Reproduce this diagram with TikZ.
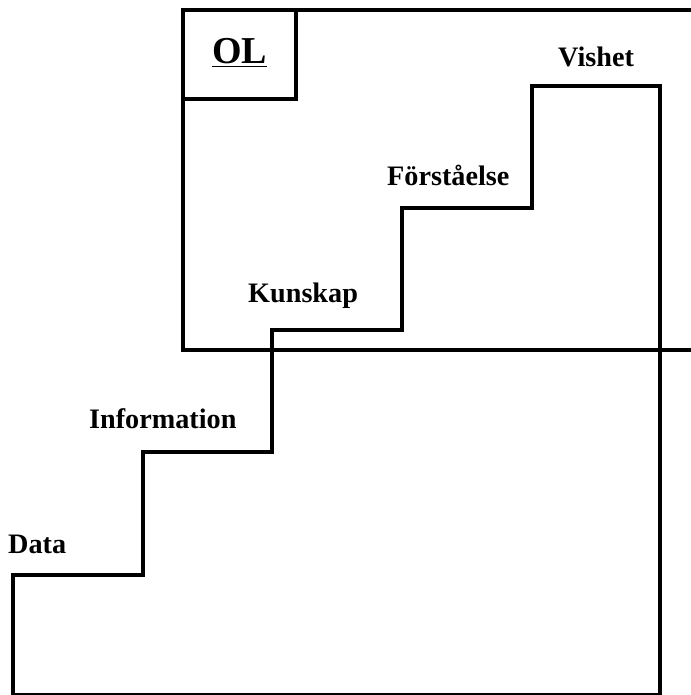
\documentclass[tikz,border=0pt]{standalone}
\usepackage{fontspec}
\setmainfont{Liberation Serif}
\begin{document}
\begin{tikzpicture}[x=1pt,y=-1pt,
  frame/.style={line width=4pt,draw=black,line join=miter},
  steplabel/.style={anchor=base west,inner sep=0pt,font=\fontsize{28.2}{31}\selectfont\bfseries},
  ollabel/.style={anchor=base west,inner sep=0pt,font=\fontsize{38}{41}\selectfont\bfseries}]
  \useasboundingbox (0,0) rectangle (690,695);
  % organisational-learning frame and its label box
  \draw[frame] (183,10) rectangle (705,350);
  \draw[frame] (183,99) -| (296,10);
  % the staircase
  \draw[frame] (13,695.2) -- (13,575) -- (143,575) -- (143,452) -- (272,452)
    -- (272,330) -- (402,330) -- (402,208) -- (532,208) -- (532,86)
    -- (660,86) -- (660,695.2) -- cycle;
  % labels
  \node[ollabel] (ol) at (212,64) {\underline{OL}};
  \node[steplabel] (data) at (8,553) {Data};
  \node[steplabel] (info) at (89,428) {Information};
  \node[steplabel] (kun) at (248,302) {Kunskap};
  \node[steplabel] (for) at (387,185) {Förståelse};
  \node[steplabel] (vis) at (558,67) {Vishet};
\end{tikzpicture}
\end{document}
